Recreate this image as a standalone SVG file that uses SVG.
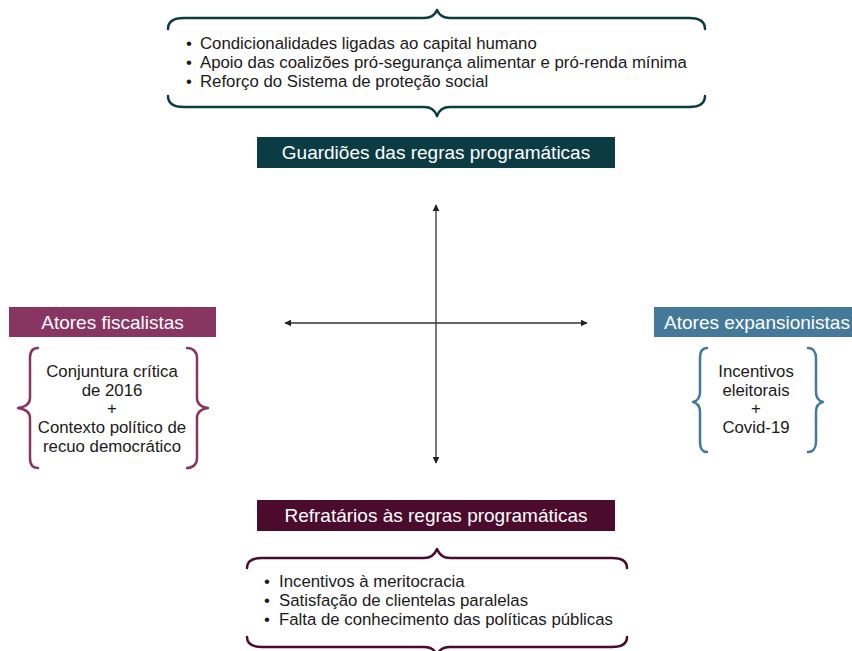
<svg xmlns="http://www.w3.org/2000/svg" width="852" height="651" viewBox="0 0 852 651">
<style>
.hdr{font-family:"Liberation Sans",Arial,sans-serif;font-size:19px;fill:#fff;text-anchor:middle}
.body{font-family:"Liberation Sans",Arial,sans-serif;font-size:16.8px;fill:#1a1a1a}
.mid{text-anchor:middle}
.brace{fill:none;stroke-width:2.5;stroke-linecap:round;stroke-linejoin:round}
.axis{stroke:#333;stroke-width:1.3;fill:none}
</style>
<defs>
<marker id="ah" viewBox="0 0 10 10" refX="9" refY="5" markerWidth="7" markerHeight="7" markerUnits="userSpaceOnUse" orient="auto-start-reverse">
<path d="M0,0 L10,5 L0,10 Z" fill="#222"/>
</marker>
</defs>
<rect width="852" height="651" fill="#fff"/>

<g id="guardioes-list">
<path class="brace" stroke="#0c3c43" d="M168,29 C168,21 174,18 184,18 L424,18 C431,18 435,15 437,10 C439,15 443,18 450,18 L689,18 C699,18 705,21 705,29"/>
<path class="brace" stroke="#0c3c43" d="M168,96 C168,104 174,107 184,107 L424,107 C431,107 435,110 437,116 C439,110 443,107 450,107 L689,107 C699,107 705,104 705,96"/>
<text class="body" y="49"><tspan x="186">•</tspan><tspan x="200">Condicionalidades ligadas ao capital humano</tspan></text>
<text class="body" y="68"><tspan x="186">•</tspan><tspan x="200">Apoio das coalizões pró-segurança alimentar e pró-renda mínima</tspan></text>
<text class="body" y="87"><tspan x="186">•</tspan><tspan x="200">Reforço do Sistema de proteção social</tspan></text>
</g>

<g id="guardioes">
<rect x="257" y="137" width="358" height="31" fill="#0c3c43"/>
<text class="hdr" x="436" y="159">Guardiões das regras programáticas</text>
</g>

<g id="connectors">
<line class="axis" x1="436" y1="205" x2="436" y2="463" marker-start="url(#ah)" marker-end="url(#ah)"/>
<line class="axis" x1="285" y1="323" x2="587" y2="323" marker-start="url(#ah)" marker-end="url(#ah)"/>
</g>

<g id="fiscalistas">
<rect x="9" y="307" width="207" height="30" fill="#893562"/>
<text class="hdr" x="112.5" y="328.5">Atores fiscalistas</text>
<path class="brace" stroke="#893562" d="M38,348 C32,348 30,352 30,358 L30,398 C30,404 25,407 18,408 C25,409 30,412 30,418 L30,458 C30,464 32,468 38,468"/>
<path class="brace" stroke="#893562" d="M187,348 C193,348 197,352 197,358 L197,398 C197,404 201,407 208,408 C201,409 197,412 197,418 L197,458 C197,464 193,468 187,468"/>
<text class="body mid" x="112" y="377">Conjuntura crítica</text>
<text class="body mid" x="112" y="396">de 2016</text>
<text class="body mid" x="112" y="414">+</text>
<text class="body mid" x="112" y="433">Contexto político de</text>
<text class="body mid" x="112" y="452">recuo democrático</text>
</g>

<g id="expansionistas">
<rect x="654" y="307" width="198" height="30" fill="#44799a"/>
<text class="hdr" x="757" y="328.5">Atores expansionistas</text>
<path class="brace" stroke="#44799a" d="M707,348 C702,348 700,352 700,358 L700,392 C700,398 697,401 693,402 C697,403 700,406 700,412 L700,442 C700,448 702,452 707,452"/>
<path class="brace" stroke="#44799a" d="M808,348 C813,348 816,352 816,358 L816,392 C816,398 819,401 823,402 C819,403 816,406 816,412 L816,442 C816,448 813,452 808,452"/>
<text class="body mid" x="756" y="377">Incentivos</text>
<text class="body mid" x="756" y="396">eleitorais</text>
<text class="body mid" x="756" y="414">+</text>
<text class="body mid" x="756" y="433">Covid-19</text>
</g>

<g id="refratarios">
<rect x="257" y="500" width="358" height="31" fill="#4a0b2c"/>
<text class="hdr" x="436" y="522">Refratários às regras programáticas</text>
</g>

<g id="refratarios-list">
<path class="brace" stroke="#4a0b2c" d="M247,568 C247,561 252,558 262,558 L424,558 C431,558 435,554 437,549 C439,554 443,558 450,558 L612,558 C622,558 627,561 627,568"/>
<path class="brace" stroke="#4a0b2c" d="M247,637 C247,644 252,647 262,647 L424,647 C431,647 435,650 437,655 C439,650 443,647 450,647 L612,647 C622,647 627,644 627,637"/>
<text class="body" y="587"><tspan x="264">•</tspan><tspan x="279">Incentivos à meritocracia</tspan></text>
<text class="body" y="606"><tspan x="264">•</tspan><tspan x="279">Satisfação de clientelas paralelas</tspan></text>
<text class="body" y="625"><tspan x="264">•</tspan><tspan x="279">Falta de conhecimento das políticas públicas</tspan></text>
</g>
</svg>
